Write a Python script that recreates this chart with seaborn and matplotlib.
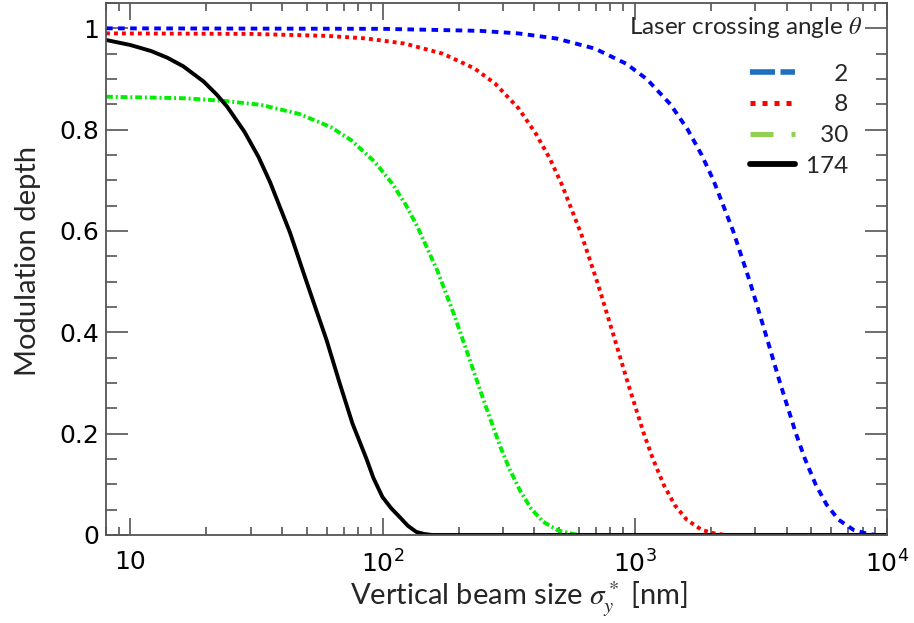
import numpy as np
import pandas as pd
import matplotlib
matplotlib.use("Agg")
import matplotlib.pyplot as plt
from matplotlib.lines import Line2D
from matplotlib.ticker import (MultipleLocator, FixedLocator, FixedFormatter,
                               LogLocator, NullFormatter)
import seaborn as sns

# ---------------- data ----------------
angles = ["2", "8", "30", "174"]
legend_labels = ["\u2007\u20072\u2007", "\u2007\u20078\u2007",
                 "\u200730\u2007", "174\u2007"]

x_2 = [8, 100, 243, 344, 488, 694, 925, 1114, 1384, 1621, 1841, 2050, 2453,
       2858, 3286, 3766, 4354, 4728, 5208, 5757, 6427, 7366, 8273, 9020, 10000]
y_2 = [1.0, 0.999, 0.995, 0.99, 0.98, 0.96, 0.93, 0.90, 0.85, 0.80, 0.75,
       0.70, 0.60, 0.50, 0.40, 0.30, 0.20, 0.15, 0.10, 0.06, 0.03, 0.01,
       0.003, 0.0, 0.0]

x_8 = [8, 30, 60.8, 86, 122, 173, 231, 279, 346, 405, 460, 512, 613, 714, 821,
       942, 1089, 1182, 1302, 1439, 1607, 1842, 2068, 2300]
y_8 = [0.990, 0.989, 0.985, 0.980, 0.970, 0.950, 0.921, 0.891, 0.842, 0.792,
       0.743, 0.693, 0.594, 0.495, 0.396, 0.297, 0.198, 0.149, 0.099, 0.059,
       0.030, 0.010, 0.003, 0.0]

x_30 = [8, 16.4, 23.2, 32.9, 46.7, 62.3, 75.1, 93.2, 109.3, 124.1, 138.1,
        165.3, 192.6, 221.4, 253.8, 293.4, 318.6, 351, 388, 433, 496, 558, 600]
y_30 = [0.865, 0.862, 0.857, 0.849, 0.831, 0.805, 0.779, 0.736, 0.693, 0.650,
        0.606, 0.520, 0.433, 0.346, 0.260, 0.173, 0.130, 0.087, 0.052, 0.026,
        0.009, 0.003, 0.0]

x_174 = [8, 10, 12.1, 14, 16.2, 19.5, 22, 24.2, 28.3, 32.2, 35.8, 42.9, 49.9,
         54, 59.9, 67.5, 75.9, 86.3, 92, 99.8, 108, 116.5, 126, 136, 146, 157,
         10000]
y_174 = [0.977, 0.967, 0.955, 0.942, 0.925, 0.895, 0.869, 0.845, 0.796, 0.746,
         0.696, 0.597, 0.500, 0.450, 0.385, 0.300, 0.220, 0.150, 0.112, 0.075,
         0.053, 0.036, 0.018, 0.006, 0.002, 0.0, 0.0]

x_ticks = [10, 100, 1000, 10000]
x_ticklabels = ["10", r"$\mathdefault{10^{2}}$", r"$\mathdefault{10^{3}}$",
                r"$\mathdefault{10^{4}}$"]
y_ticks = [0, 0.2, 0.4, 0.6, 0.8, 1.0]
y_ticklabels = ["0", "0.2", "0.4", "0.6", "0.8", "1"]

# ---------------- style ----------------
sns.set_style("ticks")
plt.rcParams["font.family"] = ["DejaVu Sans"]
plt.rcParams["mathtext.fontset"] = "stix"

frames = []
for lab, xs, ys in [("2", x_2, y_2), ("8", x_8, y_8), ("30", x_30, y_30),
                    ("174", x_174, y_174)]:
    frames.append(pd.DataFrame({"sigma": xs, "depth": ys, "angle": lab}))
df = pd.concat(frames, ignore_index=True)

fig = plt.figure(figsize=(9.14, 6.23), dpi=100)
ax = fig.add_axes([0.116, 0.1413, 0.8545, 0.8539])
ax.set_xscale("log")

palette = {"2": "#0000FF", "8": "#FF0000", "30": "#00EE00", "174": "#000000"}
dashes = {"2": (1.7, 1.4), "8": (1.0, 1.05), "30": (1.75, 0.75, 0.5, 0.75),
          "174": ""}
sns.lineplot(data=df, x="sigma", y="depth", hue="angle", style="angle",
             hue_order=angles, style_order=angles, palette=palette,
             dashes=dashes, linewidth=2.8, estimator=None, sort=False,
             legend=False, ax=ax)

ax.set_xlim(8, 10000)
ax.set_ylim(0, 1.05)

ax.xaxis.set_major_locator(FixedLocator(x_ticks))
ax.xaxis.set_major_formatter(FixedFormatter(x_ticklabels))
ax.xaxis.set_minor_locator(LogLocator(base=10, subs=np.arange(2, 10)))
ax.xaxis.set_minor_formatter(NullFormatter())
ax.yaxis.set_major_locator(FixedLocator(y_ticks))
ax.yaxis.set_major_formatter(FixedFormatter(y_ticklabels))
ax.yaxis.set_minor_locator(MultipleLocator(0.05))

tick_col = "#555555"
ax.tick_params(axis="both", which="both", direction="in", top=True,
               right=True, color=tick_col, width=1.2, labelsize=18,
               labelcolor="black")
ax.tick_params(axis="x", which="major", length=12, pad=11)
ax.tick_params(axis="x", which="minor", length=6)
ax.tick_params(axis="y", which="major", length=16, pad=5)
ax.tick_params(axis="y", which="minor", length=8)
for sp in ax.spines.values():
    sp.set_color(tick_col)
    sp.set_linewidth(1.3)
    sp.set_visible(True)

label_font = {"family": ["Lato", "DejaVu Sans"], "size": 21}
ax.set_xlabel(r"Vertical beam size $\sigma_y^*$ [nm]", fontdict=label_font)
ax.set_ylabel("Modulation depth", fontdict=label_font)
ax.xaxis.set_label_coords(0.529, -0.085)
ax.yaxis.set_label_coords(-0.083, 0.515)

leg_handles = [
    Line2D([], [], color="#1F6FC0", lw=4.0, linestyle=(0, (4.5, 1.0))),
    Line2D([], [], color="#FF0000", lw=3.6, linestyle=(0, (1.0, 1.4))),
    Line2D([], [], color="#92D050", lw=3.6, linestyle=(0, (4.6, 3.6, 1.0, 3.6))),
    Line2D([], [], color="#000000", lw=4.2),
]
leg_font = {"family": ["Lato", "DejaVu Sans"], "size": 17.5}
leg = ax.legend(leg_handles, legend_labels,
                title="Laser crossing angle $\\theta$\n",
                title_fontproperties=leg_font, prop=leg_font,
                loc="upper right", bbox_to_anchor=(0.968, 0.978),
                frameon=False, handlelength=1.85, handletextpad=0.45,
                labelspacing=0.4, alignment="right", borderpad=0,
                borderaxespad=0)
leg.get_title().set_linespacing(0.6)

fig.savefig("out.png", dpi=100)
